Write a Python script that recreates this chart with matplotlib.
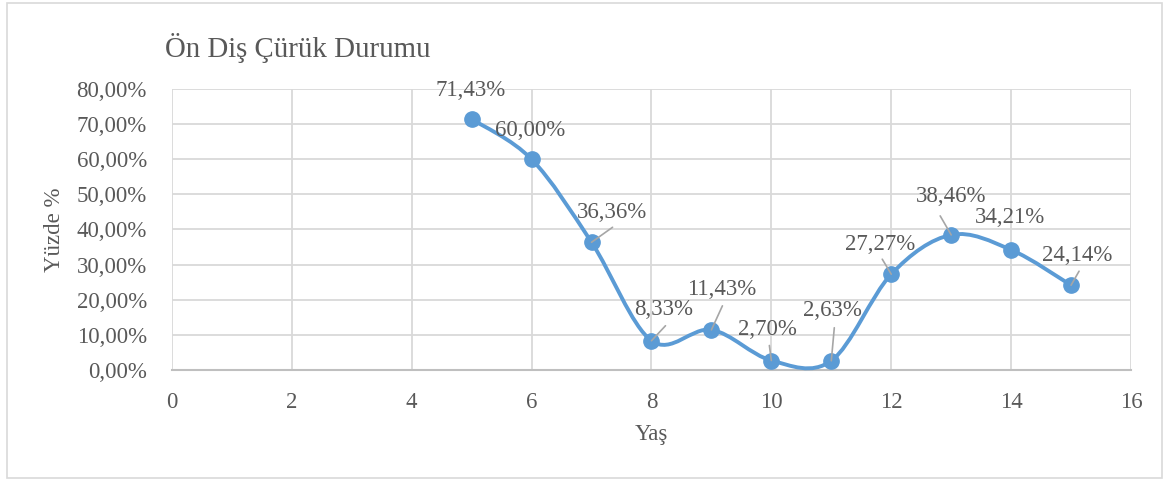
import numpy as np
import matplotlib.pyplot as plt
from matplotlib.path import Path
from matplotlib.patches import PathPatch, Rectangle
from matplotlib.ticker import FuncFormatter, MultipleLocator

plt.rcParams['font.family'] = ['Liberation Serif', 'DejaVu Serif']

# Yaşa göre ön diş çürük oranı (%)
yas = [5, 6, 7, 8, 9, 10, 11, 12, 13, 14, 15]
oran = [71.43, 60.00, 36.36, 8.33, 11.43, 2.70, 2.63, 27.27, 38.46, 34.21, 24.14]

# etiket kaydırmaları (piksel) ve kılavuz çizgi uçları (None = çizgi yok)
etiket_kayma = [(-1, 29), (-1, 29), (20, 30), (12, 31), (10, 40), (-4, 31),
                (1, 50), (-11, 30), (0, 38), (-1, 32), (6, 30)]
kilavuz_uc = [None, None, (21, 15), (14, 15), (11, 24), (-2, 15),
              (3, 33), (-9, 15), (-11, 19), None, (8, 14)]

MAVI = '#5B9BD5'
GRI_YAZI = '#595959'
GRID = '#D9D9D9'


def yuzde(v):
    return f"{v:.2f}%".replace('.', ',')


fig = plt.figure(figsize=(11.69, 4.8), dpi=100)
ax = fig.add_axes([0.1471, 0.2292, 0.8204, 0.5854])

# dış çerçeve
fig.patches.append(Rectangle((7 / 1169, 2 / 480), 1155 / 1169, 475 / 480,
                             transform=fig.transFigure, fill=False,
                             edgecolor=GRID, lw=1.2))

# Excel tarzı yumuşak çizgi: Catmull-Rom kontrol noktalarıyla kübik Bezier
px = np.array(yas, dtype=float)
py = np.array(oran, dtype=float)
n = len(px)
verts = [(px[0], py[0])]
codes = [Path.MOVETO]
for i in range(n - 1):
    a = max(i - 1, 0)
    b = min(i + 2, n - 1)
    c1 = (px[i] + (px[i + 1] - px[a]) / 6, py[i] + (py[i + 1] - py[a]) / 6)
    c2 = (px[i + 1] - (px[b] - px[i]) / 6, py[i + 1] - (py[b] - py[i]) / 6)
    verts += [c1, c2, (px[i + 1], py[i + 1])]
    codes += [Path.CURVE4] * 3
ax.add_patch(PathPatch(Path(verts, codes), fill=False, edgecolor=MAVI,
                       lw=2.8, capstyle='round', zorder=3, clip_on=False))
ax.plot(yas, oran, 'o', color=MAVI, ms=11, zorder=4, clip_on=False)

# veri etiketleri
for x, y, (dx, dy), uc in zip(yas, oran, etiket_kayma, kilavuz_uc):
    if uc is not None:
        ax.annotate('', xy=(x, y), xytext=uc, textcoords='offset pixels',
                    arrowprops=dict(arrowstyle='-', color='#A6A6A6', lw=1.2,
                                    shrinkA=0, shrinkB=0), zorder=5)
    ax.annotate(yuzde(y), xy=(x, y), xytext=(dx, dy), textcoords='offset pixels',
                ha='center', va='center', fontsize=16.5, color=GRI_YAZI, zorder=6)

ax.set_xlim(0, 16)
ax.set_ylim(0, 80)
ax.xaxis.set_major_locator(MultipleLocator(2))
ax.yaxis.set_major_locator(MultipleLocator(10))
ax.yaxis.set_major_formatter(FuncFormatter(lambda v, p: yuzde(v)))
ax.grid(True, color=GRID, lw=1.3)
ax.set_axisbelow(True)
for s in ['top', 'right', 'left']:
    ax.spines[s].set_visible(False)
ax.spines['bottom'].set_color('#BFBFBF')
ax.spines['bottom'].set_linewidth(1.5)
ax.tick_params(length=0, labelsize=16.5, labelcolor=GRI_YAZI)
ax.tick_params(axis='x', pad=16)
ax.tick_params(axis='y', pad=18)

ax.set_xlabel('Yaş', fontsize=16.5, color=GRI_YAZI)
ax.set_ylabel('Yüzde %', fontsize=16.5, color=GRI_YAZI)
ax.xaxis.set_label_coords(0.5, -0.231)
ax.yaxis.set_label_coords(-0.122, 0.5)
ax.xaxis.label.set_va('center')
ax.yaxis.label.set_va('center')
fig.text(165 / 1169, 1 - 48 / 480, 'Ön Diş Çürük Durumu', fontsize=20.8,
         color=GRI_YAZI, ha='left', va='center')

fig.savefig('out.png', dpi=100)
